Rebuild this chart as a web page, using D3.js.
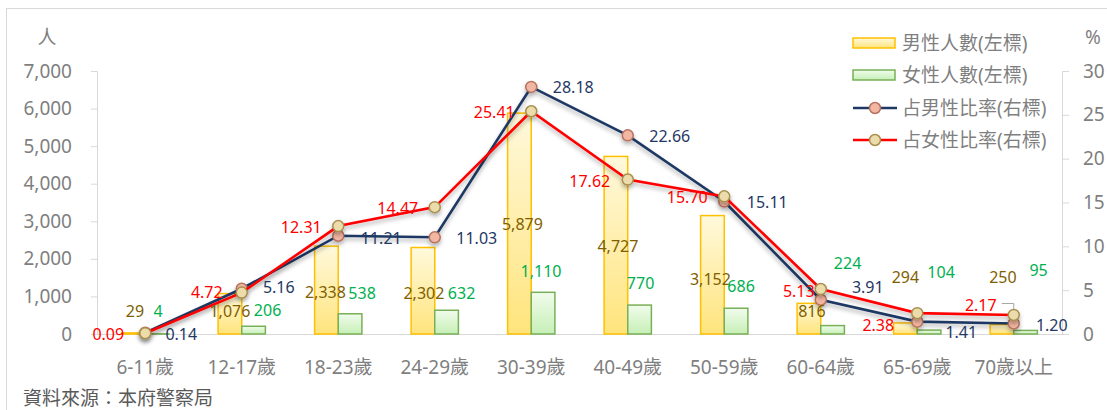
<!DOCTYPE html>
<html>
<head>
<meta charset="utf-8">
<script src="https://cdn.jsdelivr.net/npm/d3@7/dist/d3.min.js"></script>
<style>
  body { margin: 0; background: #fff; }
  text { font-family: "Noto Sans", "Noto Sans CJK TC", sans-serif; }
</style>
</head>
<body>
<div id="chart"></div>
<script>
// data
var ages = ['6-11歲', '12-17歲', '18-23歲', '24-29歲', '30-39歲', '40-49歲', '50-59歲', '60-64歲', '65-69歲', '70歲以上'];
var maleCount = [29, 1076, 2338, 2302, 5879, 4727, 3152, 816, 294, 250];
var femaleCount = [4, 206, 538, 632, 1110, 770, 686, 224, 104, 95];
var maleRatio = [0.14, 5.16, 11.21, 11.03, 28.18, 22.66, 15.11, 3.91, 1.41, 1.20];
var femaleRatio = [0.09, 4.72, 12.31, 14.47, 25.41, 17.62, 15.70, 5.13, 2.38, 2.17];
var leftTicks = [0, 1000, 2000, 3000, 4000, 5000, 6000, 7000];
var rightTicks = [0, 5, 10, 15, 20, 25, 30];
var legendNames = ['男性人數(左標)', '女性人數(左標)', '占男性比率(右標)', '占女性比率(右標)'];

// label nudges (px) relative to their anchor, like moved labels in the original
var maleCountOff = [[1.5, -22], [0, -3], [-1, 2], [1, 2], [3, 0], [2, 1], [-2, 4], [3, -8], [0, -51], [1, -52]];
var femaleCountOff = [[1, -23], [14, -16], [12, -21], [15, -17], [-2, -21], [1, -22], [5, -22], [15, -63], [12, -58], [13, -60]];
var maleRatioOff = [[36, 1], [37, -2], [43, 2], [42, 1], [42, 0], [42, 1], [43, 0], [47, -13], [44, 10], [38, 2]];
var femaleRatioOff = [[-37, 1], [-35, -1], [-37, 1], [-37, 1], [-37, 1], [-38, 1], [-37, 1], [-22, 2], [-39, 12], [-33, -10]];

var width = 1107, height = 410;
var margin = { top: 71, left: 97, right: 45, bottom: 76 };

var svg = d3.select('#chart').append('svg')
  .attr('width', width)
  .attr('height', height);

var defs = svg.append('defs');
var gy = defs.append('linearGradient').attr('id', 'gYellow').attr('x1', 0).attr('y1', 0).attr('x2', 0).attr('y2', 1);
gy.append('stop').attr('offset', '0%').attr('stop-color', '#fff9dc');
gy.append('stop').attr('offset', '100%').attr('stop-color', '#ffe47c');
var gg = defs.append('linearGradient').attr('id', 'gGreen').attr('x1', 0).attr('y1', 0).attr('x2', 0).attr('y2', 1);
gg.append('stop').attr('offset', '0%').attr('stop-color', '#f1fcec');
gg.append('stop').attr('offset', '100%').attr('stop-color', '#c6efb6');
var sh = defs.append('filter').attr('id', 'shadow').attr('x', '-10%').attr('y', '-10%').attr('width', '120%').attr('height', '130%');
sh.append('feDropShadow').attr('dx', 0).attr('dy', 3).attr('stdDeviation', 2)
  .attr('flood-color', '#000').attr('flood-opacity', 0.3);

// chart frame
svg.append('rect')
  .attr('x', 6.5).attr('y', 8.5)
  .attr('width', 1120).attr('height', 420)
  .attr('fill', 'none').attr('stroke', '#d9d9d9');

var x = d3.scaleBand()
  .domain(ages)
  .range([margin.left, width - margin.right]);

var yL = d3.scaleLinear().domain([0, 7000]).range([height - margin.bottom, margin.top]);
var yR = d3.scaleLinear().domain([0, 30]).range([height - margin.bottom, margin.top]);
var y0 = yL(0);

var barW = x.bandwidth() * 0.245;

// axes
var axL = svg.append('g')
  .attr('transform', 'translate(' + margin.left + ',0)')
  .call(d3.axisLeft(yL).tickValues(leftTicks).tickSize(6).tickPadding(19).tickFormat(d3.format(',')));
var axR = svg.append('g')
  .attr('transform', 'translate(' + (width - margin.right) + ',0)')
  .call(d3.axisRight(yR).tickValues(rightTicks).tickSize(7).tickPadding(14));
[axL, axR].forEach(function (a) {
  a.select('.domain').attr('stroke', '#d9d9d9');
  a.selectAll('.tick line').attr('stroke', '#d9d9d9');
  a.selectAll('.tick text').attr('fill', '#7f7f7f').style('font-size', '19px');
});

svg.append('line')
  .attr('x1', margin.left).attr('x2', width - margin.right)
  .attr('y1', y0 + 0.5).attr('y2', y0 + 0.5)
  .attr('stroke', '#d9d9d9');

svg.append('g').selectAll('text')
  .data(ages)
  .enter()
  .append('text')
  .attr('x', function (d) { return x(d) + x.bandwidth() / 2; })
  .attr('y', 374)
  .attr('text-anchor', 'middle')
  .attr('fill', '#7f7f7f')
  .style('font-size', '19px')
  .text(function (d) { return d; });

// unit labels
svg.append('text').attr('x', 47).attr('y', 44).attr('text-anchor', 'middle')
  .attr('fill', '#7f7f7f').style('font-size', '19px').text('人');
svg.append('text').attr('x', 1093).attr('y', 44).attr('text-anchor', 'middle')
  .attr('fill', '#7f7f7f').style('font-size', '19px').text('%');

// bars
var mx = function (i) { return x(ages[i]) + x.bandwidth() / 2 - barW; };
var fx = function (i) { return x(ages[i]) + x.bandwidth() / 2; };

svg.append('g').selectAll('rect')
  .data(maleCount)
  .enter()
  .append('rect')
  .attr('x', function (d, i) { return mx(i); })
  .attr('y', function (d) { return yL(d); })
  .attr('width', barW)
  .attr('height', function (d) { return y0 - yL(d); })
  .attr('fill', 'url(#gYellow)')
  .attr('stroke', '#ffc000')
  .attr('stroke-width', 1.5);

svg.append('g').selectAll('rect')
  .data(femaleCount)
  .enter()
  .append('rect')
  .attr('x', function (d, i) { return fx(i); })
  .attr('y', function (d) { return yL(d); })
  .attr('width', barW)
  .attr('height', function (d) { return y0 - yL(d); })
  .attr('fill', 'url(#gGreen)')
  .attr('stroke', '#78b057')
  .attr('stroke-width', 1.5);

// lines
var cx = function (i) { return x(ages[i]) + x.bandwidth() / 2; };
var line = d3.line()
  .x(function (d, i) { return cx(i); })
  .y(function (d) { return yR(d); });

var series = [
  { vals: maleRatio, stroke: '#1f3864', mFill: '#f3b6a2', mStroke: '#b5735f' },
  { vals: femaleRatio, stroke: '#ff0000', mFill: '#ecdcab', mStroke: '#a88f4f' }
];

series.forEach(function (s) {
  var g = svg.append('g').attr('filter', 'url(#shadow)');
  g.append('path')
    .datum(s.vals)
    .attr('d', line)
    .attr('fill', 'none')
    .attr('stroke', s.stroke)
    .attr('stroke-width', 2.6);
  g.selectAll('circle')
    .data(s.vals)
    .enter()
    .append('circle')
    .attr('cx', function (d, i) { return cx(i); })
    .attr('cy', function (d) { return yR(d); })
    .attr('r', 5.5)
    .attr('fill', s.mFill)
    .attr('stroke', s.mStroke)
    .attr('stroke-width', 1.5);
});

// leader line for the moved 2.17 label
var lx = cx(9), ly = yR(femaleRatio[9]);
svg.append('path')
  .attr('d', 'M' + (lx - 12) + ',' + (ly - 11.5) + 'H' + lx + 'V' + (ly - 6))
  .attr('fill', 'none').attr('stroke', '#a6a6a6').attr('stroke-width', 1);

// data labels
function labels(vals, ax, ay, off, color, fmt) {
  svg.append('g').selectAll('text')
    .data(vals)
    .enter()
    .append('text')
    .attr('x', function (d, i) { return ax(d, i) + off[i][0]; })
    .attr('y', function (d, i) { return ay(d, i) + off[i][1]; })
    .attr('text-anchor', 'middle')
    .attr('dominant-baseline', 'central')
    .attr('fill', color)
    .style('font-size', '16px')
    .text(fmt);
}

labels(maleCount, function (d, i) { return mx(i) + barW / 2; },
  function (d) { return (yL(d) + y0) / 2; }, maleCountOff, '#7f6000', d3.format(','));
labels(femaleCount, function (d, i) { return fx(i) + barW / 2; },
  function (d) { return yL(d); }, femaleCountOff, '#00b050', d3.format(','));
labels(maleRatio, function (d, i) { return cx(i); },
  function (d) { return yR(d); }, maleRatioOff, '#1f3864', d3.format('.2f'));
labels(femaleRatio, function (d, i) { return cx(i); },
  function (d) { return yR(d); }, femaleRatioOff, '#ff0000', d3.format('.2f'));

// legend
var leg = svg.append('g').attr('transform', 'translate(853,0)');
var legY = [43, 75, 108, 140];
leg.append('rect').attr('x', 0).attr('y', legY[0] - 5).attr('width', 42).attr('height', 10)
  .attr('fill', 'url(#gYellow)').attr('stroke', '#ffc000').attr('stroke-width', 1.5);
leg.append('rect').attr('x', 0).attr('y', legY[1] - 5).attr('width', 42).attr('height', 10)
  .attr('fill', 'url(#gGreen)').attr('stroke', '#78b057').attr('stroke-width', 1.5);
series.forEach(function (s, k) {
  var yy = legY[k + 2];
  leg.append('line').attr('x1', 0).attr('x2', 44).attr('y1', yy).attr('y2', yy)
    .attr('stroke', s.stroke).attr('stroke-width', 2.6);
  leg.append('circle').attr('cx', 22).attr('cy', yy).attr('r', 5.5)
    .attr('fill', s.mFill).attr('stroke', s.mStroke).attr('stroke-width', 1.5);
});
leg.selectAll('text.name')
  .data(legendNames)
  .enter()
  .append('text')
  .attr('class', 'name')
  .attr('x', 49)
  .attr('y', function (d, i) { return legY[i]; })
  .attr('dominant-baseline', 'central')
  .attr('fill', '#7f7f7f')
  .style('font-size', '19px')
  .text(function (d) { return d; });

// source note
svg.append('text')
  .attr('x', 23).attr('y', 405)
  .attr('fill', '#595959')
  .style('font-size', '19px')
  .text('資料來源：本府警察局');
</script>
</body>
</html>
